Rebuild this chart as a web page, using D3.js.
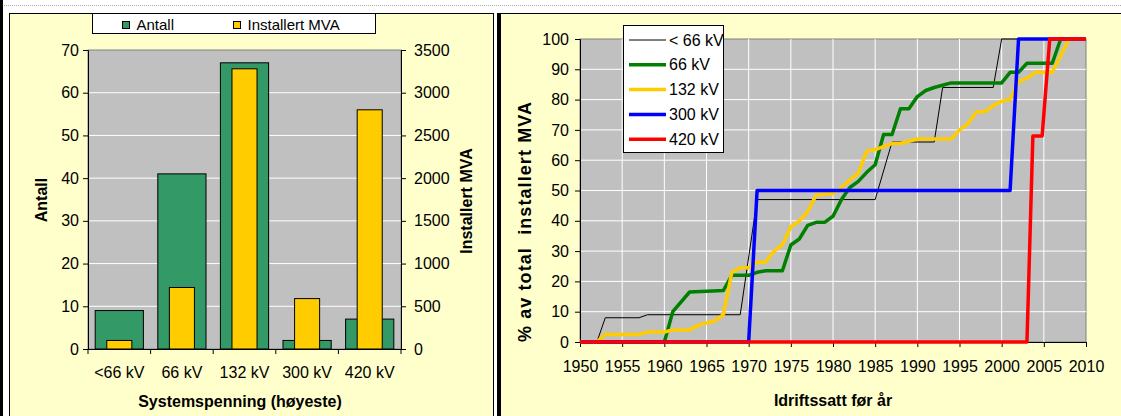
<!DOCTYPE html>
<html>
<head>
<meta charset="utf-8">
<script src="https://cdn.jsdelivr.net/npm/d3@7"></script>
<style>
body { margin: 0; background: #fff; }
svg { display: block; font-family: "Liberation Sans", Arial, sans-serif; }
</style>
</head>
<body>
<svg width="1121" height="416"></svg>
<script>
// left chart data
const categories = ['<66 kV', '66 kV', '132 kV', '300 kV', '420 kV'];
const antall = [9, 41, 67, 2, 7];
const installertMVA = [100, 720, 3280, 590, 2800];
const antallTicks = [0, 10, 20, 30, 40, 50, 60, 70];
const mvaTicks = [0, 500, 1000, 1500, 2000, 2500, 3000, 3500];

// right chart data: [year, % of total installed MVA]
const under66 = [[1950,0],[1952,0],[1953,8],[1957,8],[1958,9],[1969,9],[1971,47],[1985,47],[1987,66],
  [1992,66],[1993,84],[1999,84],[2000,100],[2010,100]];
const kv66 = [[1950,0],[1960,0],[1961,10],[1963,16.5],[1967,17],[1968,22],[1970,22],[1971,23],[1972,23.5],
  [1974,23.5],[1975,32],[1976,34],[1977,38.5],[1978,39.5],[1979,39.5],[1980,41.5],[1981,47],[1982,51],
  [1983,53],[1984,56],[1985,58.5],[1986,68.5],[1987,68.5],[1988,77],[1989,77],[1990,81],[1991,83],
  [1992,84],[1994,85.5],[2000,85.5],[2001,89],[2002,89],[2003,92],[2006,92],[2007,100],[2010,100]];
const kv132 = [[1950,0],[1952,0],[1953,2.5],[1957,2.5],[1958,3.3],[1960,3.3],[1961,4],[1963,4],[1964,5.5],
  [1966,7],[1967,9],[1968,23],[1969,24.5],[1970,24.5],[1971,26.3],[1972,26.3],[1973,30],[1974,32],
  [1975,38],[1976,40],[1977,43],[1978,48.5],[1980,49],[1981,51],[1982,53.5],[1983,55.7],[1984,63],
  [1985,63.5],[1986,64.5],[1987,65.5],[1988,65.5],[1990,67],[1994,67],[1995,70],[1996,72],[1997,76],
  [1998,76],[1999,78],[2000,79.5],[2001,80],[2002,86],[2003,87],[2004,89],[2006,89],[2008,100],[2010,100]];
const kv300 = [[1950,0],[1970,0],[1971,50],[2001,50],[2002,100],[2010,100]];
const kv420 = [[1950,0],[2003,0],[2003.7,68],[2004.8,68],[2005.7,100],[2010,100]];
const seriesNames = ['< 66 kV', '66 kV', '132 kV', '300 kV', '420 kV'];
const yearTicks = d3.range(1950, 2011, 5);
const pctTicks = d3.range(0, 101, 10);

const svg = d3.select('svg');
const panelFill = '#FFFFCC';
const plotFill = '#C0C0C0';
const tickFont = 16;

// frame
svg.append('line').attr('x1', 0).attr('x2', 1121).attr('y1', 5.5).attr('y2', 5.5)
   .attr('stroke', '#aaa').attr('stroke-dasharray', '1,1');
svg.append('rect').attr('x', 0).attr('y', 0).attr('width', 3).attr('height', 416).attr('fill', '#000');
svg.append('rect').attr('x', 9.5).attr('y', 13.5).attr('width', 484).attr('height', 420)
   .attr('fill', panelFill).attr('stroke', '#000');
svg.append('rect').attr('x', 497).attr('y', 13).attr('width', 3).attr('height', 403).attr('fill', '#000');
svg.append('rect').attr('x', 500.5).attr('y', 13.5).attr('width', 640).attr('height', 420)
   .attr('fill', panelFill).attr('stroke', '#000');

function styleAxis(g) {
  g.selectAll('path').attr('stroke', '#000');
  g.selectAll('line').attr('stroke', '#000');
  g.selectAll('text').attr('font-size', tickFont).attr('fill', '#000')
   .attr('font-family', '"Liberation Sans", Arial, sans-serif');
}

// ---------- left chart ----------
const lx = d3.scaleBand().domain(categories).range([88, 401]);
const ly = d3.scaleLinear().domain([0, 70]).range([349, 50]);
const lyMva = d3.scaleLinear().domain([0, 3500]).range([349, 50]);
const left = svg.append('g');

left.append('rect').attr('x', 88).attr('y', 50).attr('width', 313).attr('height', 299)
    .attr('fill', plotFill).attr('stroke', '#808080');
left.append('g').selectAll('line').data(antallTicks.slice(1, -1)).join('line')
    .attr('x1', 88).attr('x2', 401).attr('y1', d => ly(d)).attr('y2', d => ly(d))
    .attr('stroke', '#fff');

const bw = lx.bandwidth();
left.append('g').selectAll('rect').data(categories).join('rect')
    .attr('x', (d, i) => lx(d) + bw * 0.115)
    .attr('width', bw * 0.77)
    .attr('y', (d, i) => ly(antall[i]))
    .attr('height', (d, i) => ly(0) - ly(antall[i]))
    .attr('fill', '#339966').attr('stroke', '#000');
left.append('g').selectAll('rect').data(categories).join('rect')
    .attr('x', (d, i) => lx(d) + bw * 0.3)
    .attr('width', bw * 0.4)
    .attr('y', (d, i) => lyMva(installertMVA[i]))
    .attr('height', (d, i) => lyMva(0) - lyMva(installertMVA[i]))
    .attr('fill', '#FFCC00').attr('stroke', '#000');

left.append('g').attr('transform', 'translate(88,0)')
    .call(d3.axisLeft(ly).tickValues(antallTicks).tickSize(5).tickPadding(4))
    .call(styleAxis);
left.append('g').attr('transform', 'translate(401,0)')
    .call(d3.axisRight(lyMva).tickValues(mvaTicks).tickFormat(d3.format('d')).tickSize(5).tickPadding(8))
    .call(styleAxis);
const lxAxis = left.append('g').attr('transform', 'translate(0,349)')
    .call(d3.axisBottom(lx).tickSize(0).tickPadding(18))
    .call(styleAxis);
lxAxis.selectAll('.tick').append('line')
    .attr('x1', -bw / 2).attr('x2', -bw / 2).attr('y2', 5).attr('stroke', '#000');
lxAxis.append('line').attr('x1', 401).attr('x2', 401).attr('y2', 5).attr('stroke', '#000');

left.append('text').attr('x', 240).attr('y', 407).attr('text-anchor', 'middle')
    .attr('font-size', 16).attr('font-weight', 'bold').text('Systemspenning (høyeste)');
left.append('text').attr('transform', 'translate(46.5,200) rotate(-90)').attr('text-anchor', 'middle')
    .attr('font-size', 16).attr('font-weight', 'bold').text('Antall');
left.append('text').attr('transform', 'translate(471.5,201) rotate(-90)').attr('text-anchor', 'middle')
    .attr('font-size', 16).attr('font-weight', 'bold').text('Installert MVA');

// legend
const lLeg = left.append('g');
lLeg.append('rect').attr('x', 92.5).attr('y', 13.5).attr('width', 283).attr('height', 20)
    .attr('fill', '#fff').attr('stroke', '#000');
[['Antall', '#339966', 122.5], ['Installert MVA', '#FFCC00', 233.5]].forEach(([name, col, x]) => {
  lLeg.append('rect').attr('x', x).attr('y', 21.5).attr('width', 7).attr('height', 7)
      .attr('fill', col).attr('stroke', '#000');
  lLeg.append('text').attr('x', x + 14).attr('y', 29.5).attr('font-size', 15).text(name);
});

// ---------- right chart ----------
const rx = d3.scaleLinear().domain([1950, 2010]).range([580, 1086]);
const ry = d3.scaleLinear().domain([0, 100]).range([342, 39]);
const right = svg.append('g');

right.append('rect').attr('x', 580).attr('y', 39).attr('width', 506).attr('height', 303)
     .attr('fill', plotFill).attr('stroke', '#808080');
right.append('g').selectAll('line').data(pctTicks.slice(1, -1)).join('line')
     .attr('x1', 580).attr('x2', 1086).attr('y1', d => ry(d)).attr('y2', d => ry(d))
     .attr('stroke', '#fff');
right.append('g').selectAll('line').data(yearTicks.slice(1, -1)).join('line')
     .attr('x1', d => rx(d)).attr('x2', d => rx(d)).attr('y1', 39).attr('y2', 342)
     .attr('stroke', '#fff');

right.append('g').attr('transform', 'translate(580,0)')
     .call(d3.axisLeft(ry).tickValues(pctTicks).tickSize(5).tickPadding(6))
     .call(styleAxis);
right.append('g').attr('transform', 'translate(0,342)')
     .call(d3.axisBottom(rx).tickValues(yearTicks).tickFormat(d3.format('d')).tickSize(5).tickPadding(14))
     .call(styleAxis);

const series = [
  { name: seriesNames[0], data: under66, color: '#000000', width: 1 },
  { name: seriesNames[1], data: kv66, color: '#008000', width: 3.5 },
  { name: seriesNames[2], data: kv132, color: '#FFCC00', width: 3.5 },
  { name: seriesNames[3], data: kv300, color: '#0000FF', width: 3.5 },
  { name: seriesNames[4], data: kv420, color: '#FF0000', width: 3.5 }
];
const line = d3.line().x(d => rx(d[0])).y(d => ry(d[1]));
right.append('g').selectAll('path').data(series).join('path')
     .attr('d', d => line(d.data))
     .attr('fill', 'none')
     .attr('stroke', d => d.color)
     .attr('stroke-width', d => d.width)
     .attr('stroke-linejoin', 'round');

right.append('text').attr('x', 833).attr('y', 406).attr('text-anchor', 'middle')
     .attr('font-size', 16).attr('font-weight', 'bold').text('Idriftssatt før år');
right.append('text').attr('transform', 'translate(531,222) rotate(-90)').attr('text-anchor', 'middle')
     .attr('font-size', 18).attr('font-weight', 'bold')
     .attr('textLength', 240).attr('lengthAdjust', 'spacing')
     .style('white-space', 'pre').text('% av total  installert MVA');

// legend
const rLeg = right.append('g');
rLeg.append('rect').attr('x', 623.5).attr('y', 25.5).attr('width', 100).attr('height', 127)
    .attr('fill', '#fff').attr('stroke', '#000');
series.forEach((s, i) => {
  const y = 40 + i * 24.8;
  rLeg.append('line').attr('x1', 629).attr('x2', 666).attr('y1', y).attr('y2', y)
      .attr('stroke', s.color).attr('stroke-width', s.width);
  rLeg.append('text').attr('x', 669).attr('y', y + 5.5).attr('font-size', 16).text(s.name);
});
</script>
</body>
</html>
